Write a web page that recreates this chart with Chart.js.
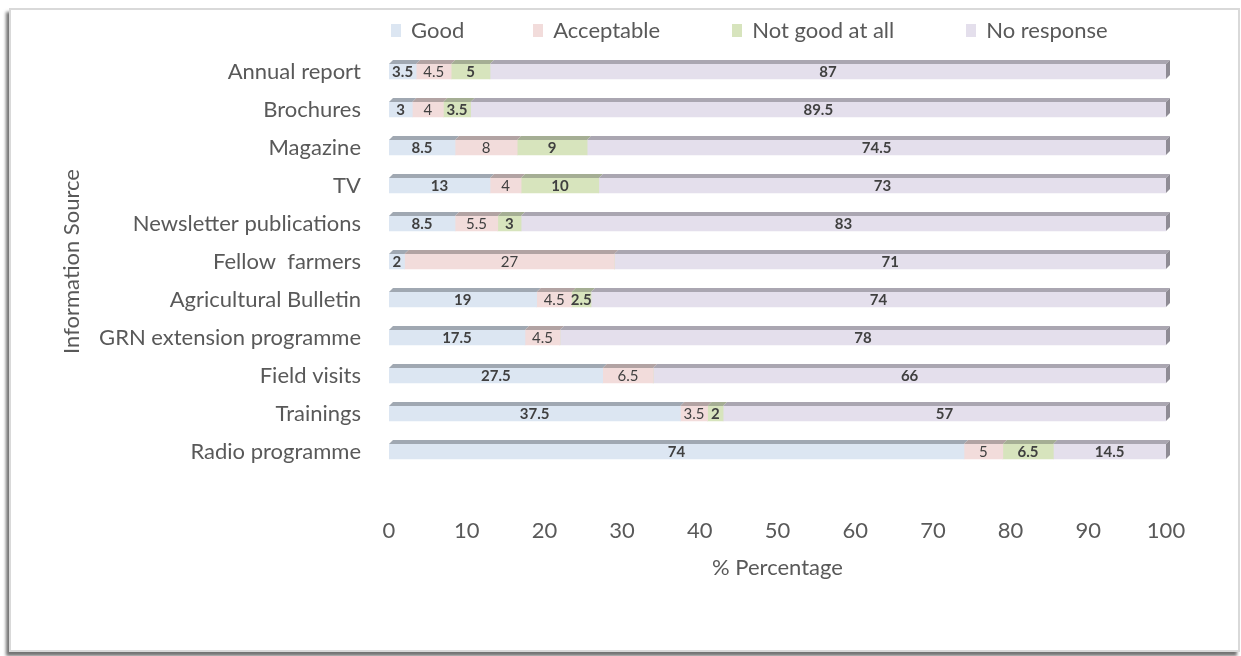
<!DOCTYPE html>
<html lang="en">
<head>
  <meta charset="UTF-8" />
  <title>Information Source Ratings</title>
  <script src="https://cdn.jsdelivr.net/npm/chart.js"></script>
  <style>
    body {
      margin: 0;
      background: #ffffff;
      font-family: 'Lato', sans-serif;
    }

    .wrap {
      position: relative;
      width: 1241px;
      height: 656px;
      overflow: hidden;
    }

    .frame {
      position: absolute;
      left: 9px;
      top: 8px;
      width: 1231px;
      height: 644px;
      box-sizing: border-box;
      border: 2px solid #d9d9d9;
      box-shadow: -3px 4px 3px rgba(0,0,0,0.55);
      background: #ffffff;
    }

    canvas {
      position: absolute;
      left: 0;
      top: 0;
    }

    #legend {
      position: absolute;
      left: 391px;
      top: 18px;
      display: flex;
      gap: 72px;
      font-size: 22px;
      color: #595959;
      line-height: 24px;
    }

    #legend .item {
      display: flex;
      align-items: center;
    }

    #legend .item:first-child {
      margin-right: -3px;
    }

    #legend .key {
      width: 10px;
      height: 13px;
      margin-right: 10px;
    }
  </style>
</head>
<body>

  <div class="wrap">
    <div class="frame"></div>
    <canvas id="ratingChart" width="1241" height="656"></canvas>
    <div id="legend"></div>
  </div>

  <script>
    const sources = [
      'Annual report',
      'Brochures',
      'Magazine',
      'TV',
      'Newsletter publications',
      'Fellow  farmers',
      'Agricultural Bulletin',
      'GRN extension programme',
      'Field visits',
      'Trainings',
      'Radio programme'
    ];

    const good       = [3.5, 3, 8.5, 13, 8.5, 2, 19, 17.5, 27.5, 37.5, 74];
    const acceptable = [4.5, 4, 8, 4, 5.5, 27, 4.5, 4.5, 6.5, 3.5, 5];
    const notGood    = [5, 3.5, 9, 10, 3, 0, 2.5, 0, 0, 2, 6.5];
    const noResponse = [87, 89.5, 74.5, 73, 83, 71, 74, 78, 66, 57, 14.5];

    const seriesNames = ['Good', 'Acceptable', 'Not good at all', 'No response'];
    const xTicks = [0, 10, 20, 30, 40, 50, 60, 70, 80, 90, 100];

    const fills = ['#dce6f2', '#f2dcdb', '#d7e4bd', '#e4dfec'];
    const tops  = ['#a0a8b2', '#b2a3a3', '#a5ae94', '#aaa6b1'];
    const boldLabel = [true, false, true, true];

    // top faces and the end cap give the bars their slab look
    const slabPlugin = {
      id: 'slab',
      afterDatasetsDraw(chart) {
        const ctx = chart.ctx;
        const d = 4;
        const last = chart.data.datasets.length - 1;
        ctx.save();
        chart.data.datasets.forEach((ds, i) => {
          const meta = chart.getDatasetMeta(i);
          meta.data.forEach((bar, j) => {
            const left = Math.min(bar.base, bar.x);
            const right = Math.max(bar.base, bar.x);
            if (right - left < 0.5) return;
            const top = bar.y - bar.height / 2;
            const bottom = bar.y + bar.height / 2;
            ctx.fillStyle = tops[i];
            ctx.beginPath();
            ctx.moveTo(left, top);
            ctx.lineTo(left + d, top - d);
            ctx.lineTo(right + d, top - d);
            ctx.lineTo(right, top);
            ctx.closePath();
            ctx.fill();
            if (i === last) {
              ctx.fillStyle = '#8f8c95';
              ctx.beginPath();
              ctx.moveTo(right, top);
              ctx.lineTo(right + d, top - d);
              ctx.lineTo(right + d, bottom - d);
              ctx.lineTo(right, bottom);
              ctx.closePath();
              ctx.fill();
            }
          });
        });
        ctx.restore();
      }
    };

    // value labels centred in each segment
    const valueLabels = {
      id: 'valueLabels',
      afterDatasetsDraw(chart) {
        const ctx = chart.ctx;
        ctx.save();
        ctx.textAlign = 'center';
        ctx.textBaseline = 'middle';
        ctx.fillStyle = '#404040';
        chart.data.datasets.forEach((ds, i) => {
          const meta = chart.getDatasetMeta(i);
          ctx.font = (boldLabel[i] ? 'bold ' : '') + '15px Lato';
          meta.data.forEach((bar, j) => {
            const v = ds.data[j];
            if (!v) return;
            ctx.fillText(String(v), (bar.x + bar.base) / 2, bar.y + 1);
          });
        });
        ctx.restore();
      }
    };

    const ctx = document.getElementById('ratingChart').getContext('2d');

    const chart = new Chart(ctx, {
      type: 'bar',
      data: {
        labels: sources,
        datasets: [good, acceptable, notGood, noResponse].map((vals, i) => ({
          label: seriesNames[i],
          data: vals,
          backgroundColor: fills[i],
          borderWidth: 0,
          barThickness: 15
        }))
      },
      options: {
        indexAxis: 'y',
        responsive: false,
        animation: false,
        layout: {
          padding: { left: 50, right: 75, top: 52.5, bottom: 75 }
        },
        plugins: {
          legend: { display: false },
          tooltip: { enabled: false }
        },
        scales: {
          x: {
            stacked: true,
            min: 0,
            max: 100,
            afterBuildTicks(scale) {
              scale.ticks = xTicks.map(v => ({ value: v }));
            },
            afterFit(scale) {
              scale.height = 110.5;
            },
            grid: { display: false, drawTicks: false },
            border: { display: false },
            ticks: {
              padding: 47,
              color: '#595959',
              font: { family: 'Lato', size: 22 }
            },
            title: {
              display: true,
              text: '% Percentage',
              color: '#595959',
              font: { family: 'Lato', size: 22 },
              padding: { top: 10, bottom: 0 }
            }
          },
          y: {
            stacked: true,
            afterFit(scale) {
              scale.width = 339;
            },
            grid: { display: false, drawTicks: false },
            border: { display: false },
            ticks: {
              padding: 28,
              color: '#595959',
              font: { family: 'Lato', size: 22 }
            },
            title: {
              display: true,
              text: 'Information Source',
              color: '#595959',
              font: { family: 'Lato', size: 22 },
              padding: { top: 9, bottom: 0 }
            }
          }
        }
      },
      plugins: [slabPlugin, valueLabels]
    });

    // html legend built from the datasets
    const legendBox = document.getElementById('legend');
    chart.data.datasets.forEach(ds => {
      const item = document.createElement('div');
      item.className = 'item';
      const key = document.createElement('span');
      key.className = 'key';
      key.style.background = ds.backgroundColor;
      const text = document.createElement('span');
      text.textContent = ds.label;
      item.appendChild(key);
      item.appendChild(text);
      legendBox.appendChild(item);
    });
  </script>

</body>
</html>
